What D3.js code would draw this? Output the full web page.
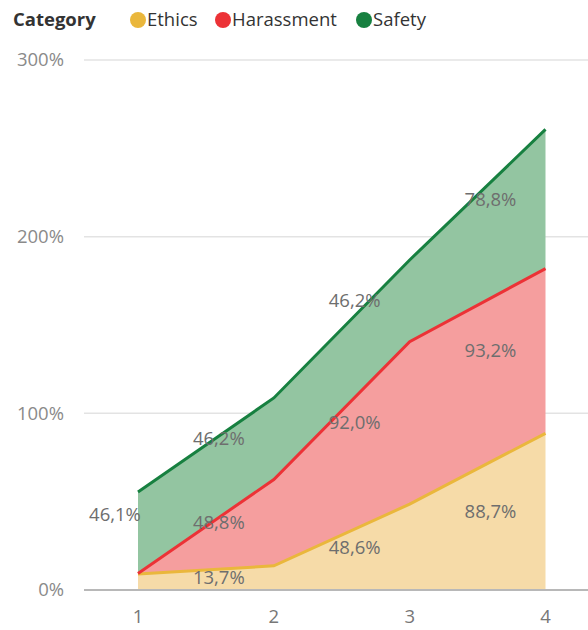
<!DOCTYPE html>
<html>
<head>
<meta charset="utf-8">
<style>
  body { margin: 0; background: #fff; }
  text { font-family: "Open Sans", "Noto Sans", sans-serif; }
</style>
</head>
<body>
<svg width="588" height="630"></svg>
<script src="https://d3js.org/d3.v7.min.js"></script>
<script>
// chart data
var categories = [1, 2, 3, 4];
var seriesNames = ["Ethics", "Harassment", "Safety"];
var ethics = [9.0, 13.7, 48.6, 88.7];
var harassment = [0.4, 48.8, 92.0, 93.2];
var safety = [46.1, 46.2, 46.2, 78.8];
var yTicks = [0, 100, 200, 300];
var showLabel = [[false, true, true, true], [false, true, true, true], [true, true, true, true]];

var lineColors = ["#EAB73C", "#EC3236", "#178040"];
var fillColors = ["#F6DBA8", "#F59E9E", "#93C5A1"];

var svg = d3.select("svg");
var plotLeft = 84, plotRight = 588, plotTop = 60, plotBottom = 590;

var rows = categories.map(function(c, i) {
  return { cat: c, Ethics: ethics[i], Harassment: harassment[i], Safety: safety[i] };
});
var stacked = d3.stack().keys(seriesNames)(rows);

var x = d3.scaleLinear().domain([1, 4]).range([138, 545.5]);
var y = d3.scaleLinear().domain([0, 300]).range([plotBottom, plotTop]);

// gridlines
svg.append("g").selectAll("line")
  .data(yTicks.filter(function(d) { return d > 0; }))
  .enter().append("line")
    .attr("x1", plotLeft).attr("x2", plotRight)
    .attr("y1", function(d) { return y(d); })
    .attr("y2", function(d) { return y(d); })
    .attr("stroke", "#e3e3e3").attr("stroke-width", 1.5);

// y labels
svg.append("g").selectAll("text")
  .data(yTicks)
  .enter().append("text")
    .attr("x", 64).attr("y", function(d) { return y(d); })
    .attr("dy", "0.35em")
    .attr("text-anchor", "end")
    .attr("font-size", 18.5).attr("fill", "#8a8a8a")
    .text(function(d) { return d + "%"; });

var area = d3.area()
  .x(function(d) { return x(d.data.cat); })
  .y0(function(d) { return y(d[0]); })
  .y1(function(d) { return y(d[1]); });

var line = d3.line()
  .x(function(d) { return x(d.data.cat); })
  .y(function(d) { return y(d[1]); });

svg.append("g").selectAll("path")
  .data(stacked)
  .enter().append("path")
    .attr("d", area)
    .attr("fill", function(d, i) { return fillColors[i]; });

// baseline
svg.append("line")
  .attr("x1", plotLeft).attr("x2", plotRight)
  .attr("y1", y(0)).attr("y2", y(0))
  .attr("stroke", "#b8b8b8").attr("stroke-width", 2);

svg.append("g").selectAll("path")
  .data(stacked)
  .enter().append("path")
    .attr("d", line)
    .attr("fill", "none")
    .attr("stroke-width", 3)
    .attr("stroke", function(d, i) { return lineColors[i]; });

// data labels
var fmt = function(v) { return v.toFixed(1).replace(".", ",") + "%"; };
stacked.forEach(function(s, si) {
  s.forEach(function(d, i) {
    if (!showLabel[si][i]) return;
    var cx = Math.max(x(d.data.cat) - 55, plotLeft + 31);
    var cy = y((d[0] + d[1]) / 2);
    if (i === 0) cy -= 18;
    svg.append("text")
      .attr("x", cx).attr("y", cy)
      .attr("dy", "0.35em")
      .attr("text-anchor", "middle")
      .attr("font-size", 18.5).attr("fill", "#6e6e6e")
      .text(fmt(d.data[s.key]));
  });
});

// x labels
svg.append("g").selectAll("text")
  .data(categories)
  .enter().append("text")
    .attr("x", function(d) { return x(d); }).attr("y", 617)
    .attr("dy", "0.35em")
    .attr("text-anchor", "middle")
    .attr("font-size", 18.5).attr("fill", "#777")
    .text(function(d) { return d; });

// legend
var legend = svg.append("g").attr("transform", "translate(13,20)");
legend.append("text")
  .attr("x", 0).attr("y", 0).attr("dy", "0.35em")
  .attr("font-size", 18.5).attr("font-weight", "bold").attr("fill", "#333")
  .text("Category");
var legendX = [138, 223, 364];
var items = legend.selectAll("g.item")
  .data(seriesNames)
  .enter().append("g")
    .attr("class", "item")
    .attr("transform", function(d, i) { return "translate(" + (legendX[i] - 13) + ",0)"; });
items.append("circle")
  .attr("r", 8).attr("cx", 0).attr("cy", 0)
  .attr("fill", function(d, i) { return lineColors[i]; });
items.append("text")
  .attr("x", 9).attr("dy", "0.35em")
  .attr("font-size", 18.5).attr("fill", "#333")
  .text(function(d) { return d; });
</script>
</body>
</html>
